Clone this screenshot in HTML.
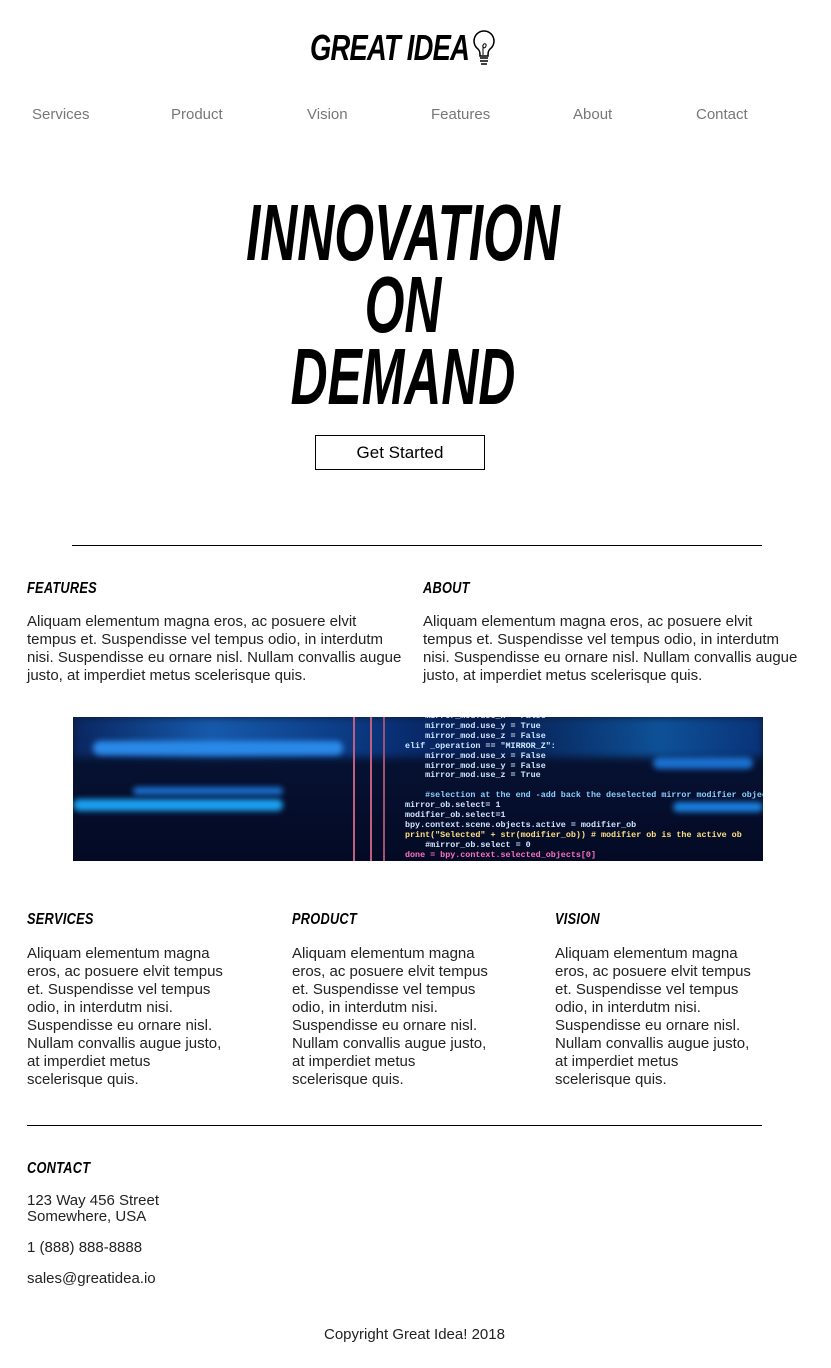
<!DOCTYPE html>
<html><head><meta charset="utf-8"><style>
body{margin:0;width:831px;height:1368px;background:#fff;position:relative;overflow:hidden;font-family:"Liberation Sans",sans-serif;color:#222}
.a{position:absolute;white-space:nowrap}
.nav{top:106px;font-size:15px;color:#777}
.h{font-weight:bold;font-style:italic;font-size:16px;color:#000;transform:scaleX(.8);transform-origin:left center;letter-spacing:.3px}
.p{font-size:15px;line-height:18px;color:#222}
.hero{left:0;width:806px;text-align:center;font-weight:bold;font-style:italic;font-size:80px;line-height:78px;color:#000;transform:scaleX(.64);transform-origin:center}
.rule{position:absolute;height:1px;background:#000}
</style></head><body>
<div class="a" style="left:310px;top:27px;font-weight:bold;font-style:italic;font-size:36px;transform:scaleX(.76);transform-origin:left;letter-spacing:-1px;color:#000">GREAT IDEA</div>
<svg class="a" style="left:470px;top:29px" width="28" height="38" viewBox="0 0 28 38"><path d="M14 2a10 10 0 0 0-6 18c2 2 2 4 2 7h8c0-3 0-5 2-7A10 10 0 0 0 14 2z" fill="none" stroke="#000" stroke-width="1.5"/><path d="M10 29h8M10 32h8M11 35h6" stroke="#000" stroke-width="1.5"/><path d="M13 26v-9c0-3 4-3 3 0s-4 2-3-1" fill="none" stroke="#000" stroke-width="1"/></svg>
<div class="a nav" style="left:32px">Services</div>
<div class="a nav" style="left:171px">Product</div>
<div class="a nav" style="left:307px">Vision</div>
<div class="a nav" style="left:431px">Features</div>
<div class="a nav" style="left:573px">About</div>
<div class="a nav" style="left:696px">Contact</div>
<div class="a hero" style="top:194px">INNOVATION</div>
<div class="a hero" style="top:266px">ON</div>
<div class="a hero" style="top:338px">DEMAND</div>
<div class="a" style="left:315px;top:435px;width:168px;height:33px;border:1px solid #000;text-align:center;line-height:33px;font-size:17px;color:#000">Get Started</div>
<div class="rule" style="left:72px;top:545px;width:690px"></div>
<div class="a h" style="left:27px;top:580px">FEATURES</div>
<div class="a p" style="left:27px;top:613px">Aliquam elementum magna eros, ac posuere elvit<br>tempus et. Suspendisse vel tempus odio, in interdutm<br>nisi. Suspendisse eu ornare nisl. Nullam convallis augue<br>justo, at imperdiet metus scelerisque quis.</div>
<div class="a h" style="left:423px;top:580px">ABOUT</div>
<div class="a p" style="left:423px;top:613px">Aliquam elementum magna eros, ac posuere elvit<br>tempus et. Suspendisse vel tempus odio, in interdutm<br>nisi. Suspendisse eu ornare nisl. Nullam convallis augue<br>justo, at imperdiet metus scelerisque quis.</div>
<div class="a" style="left:73px;top:717px;width:690px;height:144px;overflow:hidden;background:linear-gradient(180deg,#0a1a3a 0%,#061030 40%,#040a24 100%)">
<div style="position:absolute;left:0;top:0;width:690px;height:40px;background:linear-gradient(90deg,#0a2a6a,#1a6ac8 20%,#0a3a8a 45%,#061a50 60%,#1060b0 85%,#0a3a8a);filter:blur(4px);opacity:.8"></div>
<div style="position:absolute;left:20px;top:24px;width:250px;height:14px;border-radius:7px;background:#2a8ae8;filter:blur(3px)"></div>
<div style="position:absolute;left:0;top:82px;width:210px;height:12px;border-radius:6px;background:#1aa0f0;filter:blur(3px)"></div>
<div style="position:absolute;left:60px;top:70px;width:150px;height:8px;border-radius:4px;background:#1a70d0;filter:blur(3px)"></div>
<div style="position:absolute;left:580px;top:40px;width:100px;height:12px;border-radius:6px;background:#1a70d0;filter:blur(3px)"></div>
<div style="position:absolute;left:600px;top:85px;width:90px;height:10px;border-radius:5px;background:#1a80e0;filter:blur(3px)"></div>
<div style="position:absolute;left:280px;top:0;width:2px;height:144px;background:#c06080"></div>
<div style="position:absolute;left:297px;top:0;width:2px;height:144px;background:#c06080"></div>
<div style="position:absolute;left:310px;top:0;width:2px;height:144px;background:#a05070"></div>
<pre style="position:absolute;left:332px;top:-5px;margin:0;font-family:'Liberation Mono',monospace;font-size:8.4px;line-height:9.9px;color:#cfe8ff;font-weight:bold">    mirror_mod.use_x = False
    mirror_mod.use_y = True
    mirror_mod.use_z = False
elif _operation == "MIRROR_Z":
    mirror_mod.use_x = False
    mirror_mod.use_y = False
    mirror_mod.use_z = True

    <span style="color:#8ad0ff">#selection at the end -add back the deselected mirror modifier object</span>
mirror_ob.select= 1
modifier_ob.select=1
bpy.context.scene.objects.active = modifier_ob
<span style="color:#ffe080">print("Selected" + str(modifier_ob)) # modifier ob is the active ob</span>
    #mirror_ob.select = 0
<span style="color:#ff70c0">done = bpy.context.selected_objects[0]</span></pre>
</div>
<div class="a h" style="left:27px;top:911px">SERVICES</div>
<div class="a p" style="left:27px;top:945px">Aliquam elementum magna<br>eros, ac posuere elvit tempus<br>et. Suspendisse vel tempus<br>odio, in interdutm nisi.<br>Suspendisse eu ornare nisl.<br>Nullam convallis augue justo,<br>at imperdiet metus<br>scelerisque quis.</div>
<div class="a h" style="left:292px;top:911px">PRODUCT</div>
<div class="a p" style="left:292px;top:945px">Aliquam elementum magna<br>eros, ac posuere elvit tempus<br>et. Suspendisse vel tempus<br>odio, in interdutm nisi.<br>Suspendisse eu ornare nisl.<br>Nullam convallis augue justo,<br>at imperdiet metus<br>scelerisque quis.</div>
<div class="a h" style="left:555px;top:911px">VISION</div>
<div class="a p" style="left:555px;top:945px">Aliquam elementum magna<br>eros, ac posuere elvit tempus<br>et. Suspendisse vel tempus<br>odio, in interdutm nisi.<br>Suspendisse eu ornare nisl.<br>Nullam convallis augue justo,<br>at imperdiet metus<br>scelerisque quis.</div>
<div class="rule" style="left:27px;top:1125px;width:735px"></div>
<div class="a h" style="left:27px;top:1160px">CONTACT</div>
<div class="a p" style="left:27px;top:1193px;line-height:16px">123 Way 456 Street<br>Somewhere, USA</div>
<div class="a p" style="left:27px;top:1239px">1 (888) 888-8888</div>
<div class="a p" style="left:27px;top:1270px">sales@greatidea.io</div>
<div class="a p" style="left:324px;top:1326px">Copyright Great Idea! 2018</div>
</body></html>
